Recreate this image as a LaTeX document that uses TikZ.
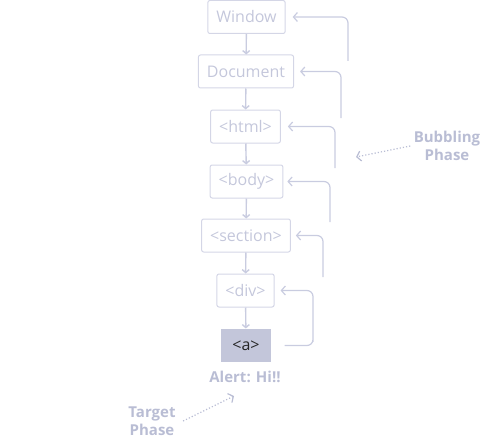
\documentclass[tikz,border=0pt]{standalone}
\usepackage{fontspec}
\setmainfont{Open Sans}
\usetikzlibrary{arrows.meta}
\definecolor{boxline}{HTML}{D4D6E6}
\definecolor{boxtext}{HTML}{C4C7DB}
\definecolor{linkline}{HTML}{C9CCE0}
\definecolor{targetfill}{HTML}{C3C6DA}
\definecolor{phasetext}{HTML}{B9BDD4}
\tikzset{
  elem/.style={draw=boxline, line width=1pt, rounded corners=2pt, text=boxtext,
    font=\fontsize{16}{18}\selectfont, minimum height=33pt, inner xsep=8.5pt},
  target/.style={elem, draw=none, fill=targetfill, text=black!85, rounded corners=0pt, minimum width=50pt},
  down/.style={-{Straight Barb[length=3pt,width=7pt]}, draw=linkline, line width=1.4pt},
  bubble/.style={-{Straight Barb[length=4pt,width=9pt]}, draw=linkline, line width=1.2pt, rounded corners=6pt},
  phase/.style={text=phasetext, font=\bfseries\fontsize{15}{18.5}\selectfont, align=center},
  hint/.style={-{Straight Barb[length=4pt,width=10pt]}, draw=phasetext, line width=1.2pt, dotted}
}
\begin{document}
\begin{tikzpicture}[x=1pt,y=-1pt]
  \useasboundingbox (0,0) rectangle (486,441);
  \node[elem] (window) at (246.5,17) {Window};
  \node[elem] (document) at (246,71.5) {Document};
  \node[elem] (html) at (245.5,126.5) {<html>};
  \node[elem] (body) at (246.5,181.5) {<body>};
  \node[elem] (section) at (246,235.5) {<section>};
  \node[elem] (div) at (245.5,290.5) {<div>};
  \node[target] (a) at (246,345.5) {<a>};
  \node[phase] (alert) at (245,377) {Alert: Hi!!};

  \draw[down] (window) -- (document); \draw[down] (document) -- (html); \draw[down] (html) -- (body);
  \draw[down] (body) -- (section); \draw[down] (section) -- (div); \draw[down] (div) -- (a);

  % bubbling back up
  \coordinate (up1) at (313,345.5);
  \coordinate (up2) at (323,277);
  \coordinate (up3) at (330,222);
  \coordinate (up4) at (335,168);
  \coordinate (up5) at (341,118);
  \coordinate (up6) at (348,61);
  \draw[bubble, shorten <=13pt] (a.east) -| (up1) |- ([xshift=6pt]div.east);
  \draw[bubble] (up2) |- ([xshift=5pt]section.east);
  \draw[bubble] (up3) |- ([xshift=4pt]body.east);
  \draw[bubble] (up4) |- ([xshift=7pt]html.east);
  \draw[bubble] (up5) |- ([xshift=6pt]document.east);
  \draw[bubble] (up6) |- ([xshift=7pt]window.east);

  \node[phase] (bubbling) at (447,146) {Bubbling\\Phase};
  \coordinate (bubtip) at (356,157);
  \draw[hint] (bubbling.west) -- (bubtip);

  \node[phase] (targetphase) at (152,421) {Target\\Phase};
  \coordinate (targettip) at (234,396);
  \draw[hint] ([xshift=4pt]targetphase.east) -- (targettip);
\end{tikzpicture}
\end{document}
